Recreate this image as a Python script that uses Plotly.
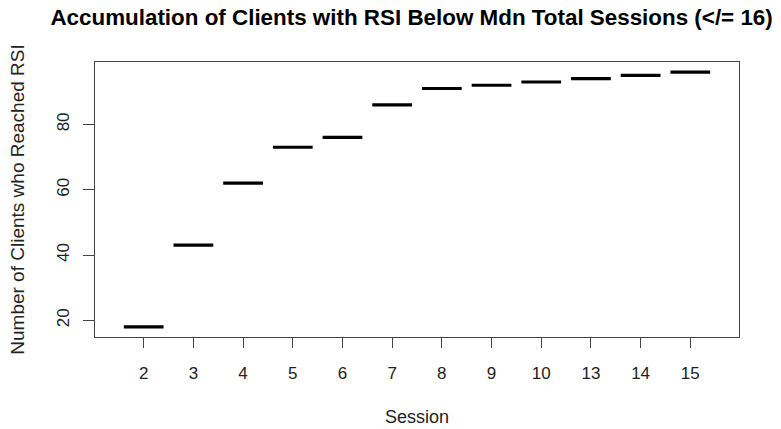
import plotly.graph_objects as go

# Sessions and the cumulative number of clients reaching RSI by that session
sessions = ["2", "3", "4", "5", "6", "7", "8", "9", "10", "13", "14", "15"]
clients = [18, 43, 62, 73, 76, 86, 91, 92, 93, 94, 95, 96]
y_ticks = [20, 40, 60, 80]

positions = list(range(1, len(sessions) + 1))
half_width = 0.4

# One horizontal median bar per session group
xs, ys = [], []
for p, v in zip(positions, clients):
    xs += [p - half_width, p + half_width, None]
    ys += [v, v, None]

fig = go.Figure(
    go.Scatter(
        x=xs, y=ys, mode="lines",
        line=dict(color="black", width=3.2),
        hoverinfo="skip", showlegend=False,
    )
)

font_family = "Liberation Sans, Arial, Helvetica, sans-serif"

# R-style 4% padding around the data ranges
x_lo, x_hi = 0.5, len(sessions) + 0.5
x_pad = (x_hi - x_lo) * 0.04
y_lo, y_hi = min(clients), max(clients)
y_pad = (y_hi - y_lo) * 0.04

fig.update_layout(
    width=781, height=429,
    margin=dict(l=95, r=42, t=62, b=92),
    paper_bgcolor="white", plot_bgcolor="white",
    font=dict(family=font_family, color="black", size=17),
    title=dict(
        text="<b>Accumulation of Clients with RSI Below Mdn Total Sessions (</= 16)</b>",
        x=0.527, xanchor="center", y=0.96, yanchor="middle",
        font=dict(size=22.4, family=font_family, color="black"),
    ),
    xaxis=dict(
        range=[x_lo - x_pad, x_hi + x_pad],
        automargin=False,
        tickmode="array", tickvals=positions, ticktext=sessions,
        ticks="outside", ticklen=10, tickwidth=1, tickcolor="#444",
        showline=True, linecolor="#444", linewidth=1, mirror=True,
        showgrid=False, zeroline=False,
        tickfont=dict(size=17, color="#222"),
        ticklabelstandoff=11,
        title=dict(text="Session", font=dict(size=18, color="#222"), standoff=27),
    ),
    yaxis=dict(
        range=[y_lo - y_pad, y_hi + y_pad],
        automargin=False,
        tickmode="array", tickvals=y_ticks,
        ticks="outside", ticklen=11, tickwidth=1, tickcolor="#444",
        showline=True, linecolor="#444", linewidth=1, mirror=True,
        showgrid=False, zeroline=False,
        tickangle=-90,
        tickfont=dict(size=17, color="#222"),
        ticklabelstandoff=7,
        title=dict(text="Number of Clients who Reached RSI", font=dict(size=19, color="#222"), standoff=24),
    ),
)

fig.write_html("out.html")
